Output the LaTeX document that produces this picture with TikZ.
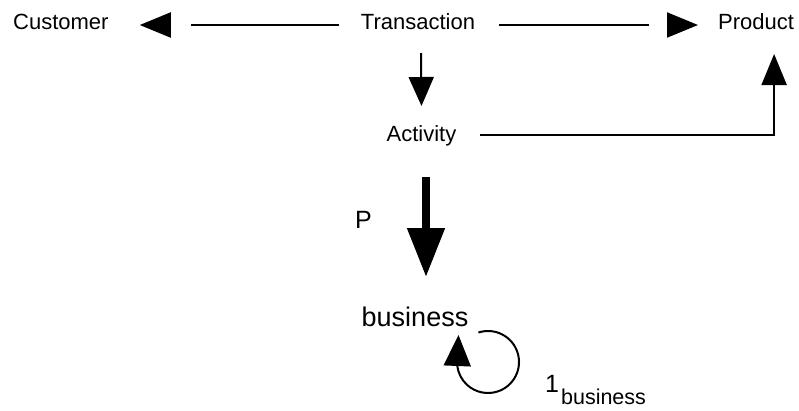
\documentclass[tikz,border=0pt]{standalone}
\usepackage{fontspec}
\setmainfont{Liberation Sans}
\usetikzlibrary{arrows.meta,calc}

\tikzset{
  lab/.style={inner sep=0pt, font=\fontsize{22}{26}\selectfont},
  conn/.style={line width=2pt},
  headonly/.style={line width=2pt,-{Triangle[length=31pt,width=25pt]}},
  fulltip/.style={-{Triangle[length=#1,width=25pt]}},
  bigtip/.style={line width=8pt,-{Triangle[length=49pt,width=36pt]}},
}

\begin{document}
\begin{tikzpicture}[x=1pt,y=-1pt]
  \useasboundingbox (0,0) rectangle (799,410);

  % entities
  \node[lab,anchor=base west] (cust)  at (13,29)    {Customer};
  \node[lab,anchor=base]      (trans) at (418,29)   {Transaction};
  \node[lab,anchor=base west] (prod)  at (718,29)   {Product};
  \node[lab,anchor=base]      (act)   at (421.5,141){Activity};
  \node[inner sep=0pt,font=\fontsize{27}{32}\selectfont,anchor=base]
       (bus) at (415,326) {business};

  % labels
  \node[inner sep=0pt,font=\fontsize{25}{30}\selectfont,anchor=base west]
       (plab) at (355,228) {P};
  \node[inner sep=0pt,font=\fontsize{25}{30}\selectfont,anchor=base west]
       (idlab) at (545,392) {1\hspace{2pt}\raisebox{-12pt}{\fontsize{21.5}{25}\selectfont business}};

  % Transaction -> Customer: line, a gap, then the head
  \coordinate (c1s) at ([shift={(-22,-4)}]trans.base west);
  \coordinate (c1e) at ([shift={(31,-4)}]cust.base east);
  \draw[conn,shorten >=51pt] (c1s) -- (c1e);
  \draw[headonly] ($(c1e)!31pt!(c1s)$) -- (c1e);

  % Transaction -> Product: line, a gap, then the head
  \coordinate (c2s) at ([shift={(24,-4)}]trans.base east);
  \coordinate (c2e) at ([shift={(-20,-4)}]prod.base west);
  \draw[conn,shorten >=49pt] (c2s) -- (c2e);
  \draw[headonly] ($(c2e)!31pt!(c2s)$) -- (c2e);

  % Transaction -> Activity
  \draw[conn,fulltip=29pt] ([shift={(3,24)}]trans.base) -- ([shift={(0,-35)}]act.base);

  % Activity -> Product
  \draw[conn,fulltip=31pt] ([shift={(23,-6)}]act.base east) -| ([shift={(18,25)}]prod.base);

  % Activity -> business (P)
  \draw[bigtip] ([shift={(4.5,36)}]act.base) -- ([shift={(11,-49)}]bus.base);

  % identity loop on business
  \coordinate (loopc) at ([shift={(73,36)}]bus.base);
  \draw[conn,-{Triangle[length=31pt,width=27pt]}]
       ([shift={(252:31)}]loopc) arc[start angle=252,end angle=533,radius=31]
       -- ([shift={(-29.5,-27)}]loopc);
\end{tikzpicture}
\end{document}
